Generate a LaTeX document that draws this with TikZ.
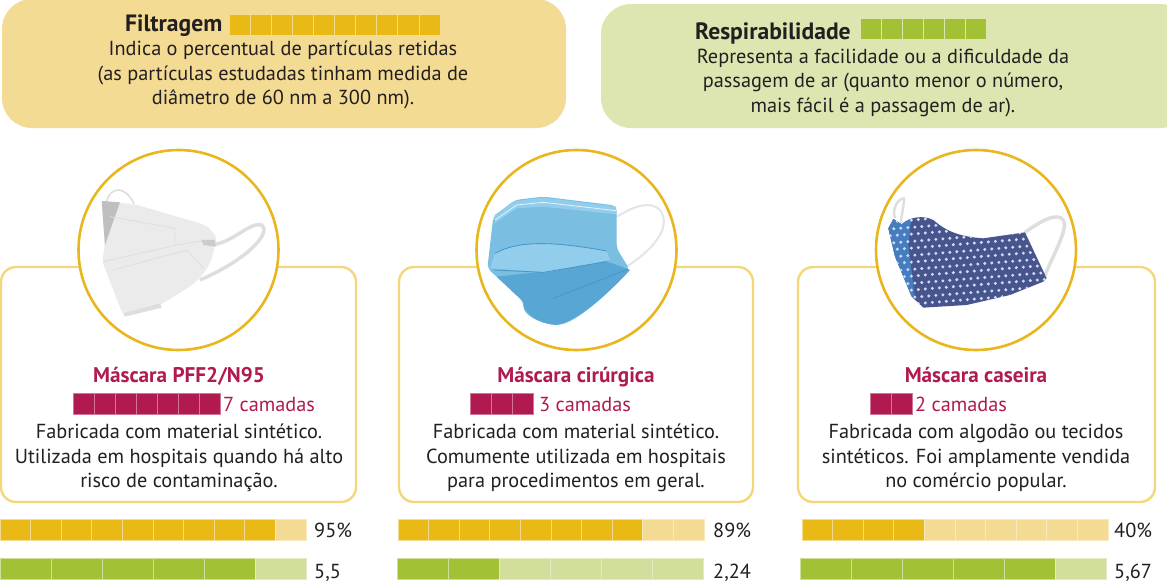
\documentclass[tikz,border=0pt]{standalone}
\usepackage{fontspec}
\setmainfont{PT Sans}
\usetikzlibrary{positioning}
\definecolor{custom-gold}{RGB}{233, 185, 22}
\definecolor{custom-sand}{RGB}{244, 219, 147}
\definecolor{custom-green}{RGB}{162, 193, 53}
\definecolor{custom-lime}{RGB}{210, 222, 156}
\definecolor{custom-pale}{RGB}{221, 230, 177}
\definecolor{custom-wine}{RGB}{176, 26, 80}
\definecolor{custom-ink}{RGB}{35, 31, 32}
\definecolor{custom-line}{RGB}{243, 215, 122}
\definecolor{custom-ring}{RGB}{233, 182, 30}
\definecolor{mask-sky}{RGB}{122, 190, 226}
\definecolor{mask-light}{RGB}{146, 205, 236}
\definecolor{mask-deep}{RGB}{88, 166, 212}
\definecolor{mask-fold}{RGB}{70, 150, 200}
\definecolor{mask-navy}{RGB}{72, 84, 140}
\definecolor{mask-side}{RGB}{70, 125, 190}
\definecolor{mask-dot}{RGB}{205, 218, 245}
\definecolor{mask-grey}{RGB}{235, 235, 235}
\definecolor{mask-fog}{RGB}{222, 222, 222}
\tikzset{
  bodytext/.style={align=center, text=custom-ink, font=\fontsize{20.3}{24.6}\selectfont, inner sep=0pt},
  headtext/.style={anchor=base west, text=custom-ink, font=\fontsize{23.6}{24}\selectfont\bfseries, inner sep=0pt},
  titletext/.style={anchor=base, text=custom-wine, font=\fontsize{21.2}{24}\selectfont\bfseries, inner sep=0pt},
  layertext/.style={anchor=base west, text=custom-wine, font=\fontsize{20.3}{24}\selectfont, inner sep=0pt},
  valuetext/.style={anchor=base west, text=custom-ink, font=\fontsize{20.3}{24}\selectfont, inner sep=0pt},
  cardbox/.style={draw=custom-line, line width=2.4pt, fill=white, rounded corners=15pt},
  ringbox/.style={draw=custom-ring, line width=2.6pt, fill=white}
}
% x, y, cell width, cells, filled cells, dark colour, light colour
\newcommand{\segbar}[7]{
  \foreach \i in {1,...,#4} {
    \pgfmathsetmacro{\xa}{#1+(\i-1)*#3}
    \ifnum\i>#5\relax
      \filldraw[fill=#7, draw=#7!60!white, line width=0.7pt] (\xa,#2) rectangle ++(#3,21);
    \else
      \filldraw[fill=#6, draw=#7, line width=0.7pt] (\xa,#2) rectangle ++(#3,21);
    \fi
  }
}
\begin{document}
\begin{tikzpicture}[x=1pt, y=-1pt]
\useasboundingbox (0,0) rectangle (1167,582);

% legend boxes
\fill[custom-sand, rounded corners=30pt] (2,-1) rectangle (566,128);
\fill[custom-pale, rounded corners=30pt] (601,4) rectangle (1190,128);
\node[headtext] (filtragem) at (125,31) {Filtragem};
\segbar{229}{14}{21.1}{10}{10}{custom-gold}{custom-sand}
\node[bodytext] (filtragemtext) at (283,75) {Indica o percentual de partículas retidas\\(as partículas estudadas tinham medida de\\diâmetro de 60 nm a 300 nm).};
\node[headtext] (respira) at (695,39) {Respirabilidade};
\segbar{860}{18}{21.1}{6}{6}{custom-green}{custom-pale}
\node[bodytext] (respiratext) at (883,83) {Representa a facilidade ou a dificuldade da\\passagem de ar (quanto menor o número,\\mais fácil é a passagem de ar).};

% cards
\draw[cardbox] (1,267) rectangle (356,502);
\draw[cardbox] (399,267) rectangle (753,502);
\draw[cardbox] (798,267) rectangle (1155,502);
\filldraw[ringbox] (178.5,250) circle (100);
\filldraw[ringbox] (576.5,250) circle (100);
\filldraw[ringbox] (976,250) circle (100);

% mask one
\begin{scope}[shift={(60,145)}, scale=0.3333]
\draw[mask-fog, line width=1.6pt] (140,170) .. controls (150,125) and (195,120) .. (222,176);
\draw[mask-fog, line width=3.5pt] (465,298) .. controls (520,290) and (570,230) .. (605,240) .. controls (635,260) and (570,340) .. (420,405);
\fill[mask-grey, rounded corners=6pt] (125,168) -- (225,178) -- (420,235) .. controls (455,250) and (470,280) .. (465,300) .. controls (450,370) and (420,400) .. (390,425) -- (300,480) -- (190,513) -- (125,345) -- (135,310) -- cycle;
\fill[gray!50!white] (125,168) -- (180,172) -- (135,300) -- cycle;
\draw[mask-fog, line width=0.8pt] (130,350) -- (350,300) -- (445,285);
\draw[mask-fog, line width=0.8pt] (150,215) -- (345,250) -- (345,300);
\draw[mask-fog, line width=0.8pt] (160,375) -- (380,315) -- (430,370);
\fill[mask-fog] (190,505) -- (300,475) -- (305,488) -- (195,515) -- cycle;
\fill[gray!40!white] (425,285) -- (465,285) -- (467,305) -- (430,300) -- cycle;
\end{scope}

% mask two
\begin{scope}[shift={(460,145)}, scale=0.3333]
\draw[gray!20, line width=2pt] (470,215) .. controls (520,185) and (570,165) .. (600,195) .. controls (640,250) and (570,320) .. (500,365);
\fill[mask-sky, rounded corners=5pt] (100,215) -- (165,165) -- (250,155) -- (470,182) -- (470,310) -- (510,375) .. controls (440,450) and (350,530) .. (290,540) .. controls (240,535) and (190,510) .. (190,470) -- (110,395) -- (82,370) -- cycle;
\fill[mask-light] (104,210) -- (165,168) -- (250,158) -- (468,185) -- (468,208) -- (250,185) -- (170,190) -- (104,235) -- cycle;
\fill[mask-deep] (110,395) -- (250,380) -- (440,350) -- (470,360) -- (510,375) .. controls (440,450) and (350,530) .. (290,540) .. controls (240,535) and (190,510) .. (190,470) -- cycle;
\fill[mask-light] (105,325) .. controls (170,290) and (260,285) .. (440,318) -- (450,345) -- (260,382) -- (90,370) -- cycle;
\draw[mask-fold, line width=0.8pt] (105,325) .. controls (170,290) and (260,285) .. (440,318);
\draw[mask-fold, line width=0.8pt] (100,375) -- (250,382) -- (440,350);
\draw[mask-fold, line width=0.8pt] (280,460) -- (505,372);
\draw[white!80!mask-sky, line width=0.8pt] (105,225) -- (170,180) -- (250,172) -- (468,197);
\end{scope}

% mask three
\begin{scope}[shift={(860,145)}, scale=0.3333]
\draw[mask-fog, line width=2.4pt] (105,220) .. controls (95,190) and (115,160) .. (132,160) .. controls (132,185) and (125,205) .. (122,235);
\draw[mask-fog, line width=3.5pt] (495,262) .. controls (540,230) and (590,200) .. (610,225) .. controls (625,250) and (585,320) .. (555,390);
\begin{scope}
\clip (85,250) -- (100,222) -- (125,238) .. controls (150,215) and (190,210) .. (220,225) .. controls (260,260) and (300,275) .. (370,280) -- (495,262) -- (560,400) -- (550,410) -- (450,450) -- (320,480) -- (190,488) -- (155,455) -- (105,335) -- cycle;
\fill[mask-navy] (60,190) rectangle (580,500);
\fill[mask-side] (60,190) -- (155,215) -- (145,300) -- (165,460) -- (60,400) -- cycle;
\foreach \row in {0,...,16} {
  \foreach \col in {0,...,24} {
    \pgfmathsetmacro{\dotx}{70+\col*21+mod(\row,2)*10.5}
    \pgfmathsetmacro{\doty}{190+\row*21-(\col*21)*0.08}
    \fill[mask-dot] (\dotx,\doty) circle (5);
  }
}
\end{scope}
\end{scope}

% first card text
\node[titletext] (titleone) at (179,382) {Máscara PFF2/N95};
\segbar{73}{393}{21.1}{7}{7}{custom-wine}{custom-wine!60!white}
\node[layertext] (layerone) at (223,411) {7 camadas};
\node[bodytext] (textone) at (179,458) {Fabricada com material sintético.\\Utilizada em hospitais quando há alto\\risco de contaminação.};
\segbar{0}{519}{30.6}{10}{9}{custom-gold}{custom-sand}
\segbar{0}{558}{51}{6}{5}{custom-green}{custom-lime}
\node[valuetext] (filterone) at (314,537) {95\%};
\node[valuetext] (breathone) at (314,578) {5,5};

% second card text
\node[titletext] (titletwo) at (576,382) {Máscara cirúrgica};
\segbar{470}{393}{21.1}{3}{3}{custom-wine}{custom-wine!60!white}
\node[layertext] (layertwo) at (539,411) {3 camadas};
\node[bodytext] (texttwo) at (576,458) {Fabricada com material sintético.\\Comumente utilizada em hospitais\\para procedimentos em geral.};
\segbar{398}{519}{30.6}{10}{8}{custom-gold}{custom-sand}
\segbar{397}{558}{51}{6}{2}{custom-green}{custom-lime}
\node[valuetext] (filtertwo) at (713,537) {89\%};
\node[valuetext] (breathtwo) at (713,578) {2,24};

% third card text
\node[titletext] (titlethree) at (976,382) {Máscara caseira};
\segbar{870}{393}{21.1}{2}{2}{custom-wine}{custom-wine!60!white}
\node[layertext] (layerthree) at (915,411) {2 camadas};
\node[bodytext] (textthree) at (976,458) {Fabricada com algodão ou tecidos\\sintéticos. Foi amplamente vendida\\no comércio popular.};
\segbar{802}{519}{30.6}{10}{4}{custom-gold}{custom-sand}
\segbar{800}{558}{51}{6}{5}{custom-green}{custom-lime}
\node[valuetext] (filterthree) at (1114,537) {40\%};
\node[valuetext] (breaththree) at (1114,578) {5,67};
\end{tikzpicture}
\end{document}
